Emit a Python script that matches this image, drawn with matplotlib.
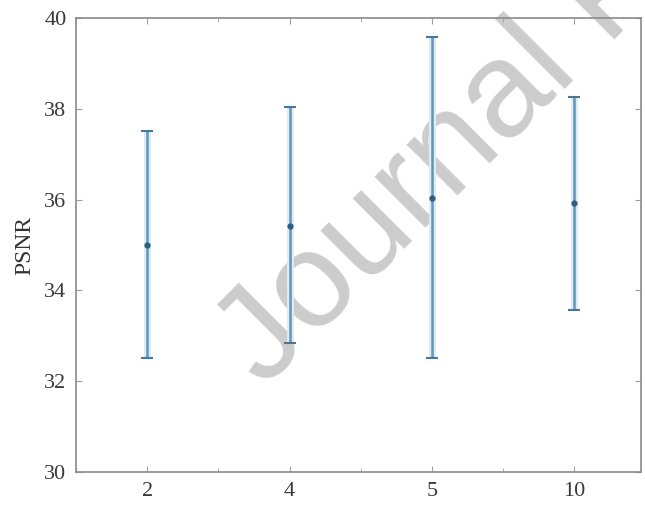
import numpy as np
import matplotlib.pyplot as plt
from matplotlib.ticker import MultipleLocator

# data
categories = ['2', '4', '5', '10']
mean_psnr = [35.0, 35.42, 36.04, 35.93]
upper_psnr = [37.5, 38.04, 39.58, 38.26]
lower_psnr = [32.5, 32.85, 32.5, 33.57]

plt.rcParams['font.family'] = ['Liberation Serif', 'DejaVu Serif']

x = np.arange(1, len(categories) + 1)
mean = np.array(mean_psnr)
err = [mean - np.array(lower_psnr), np.array(upper_psnr) - mean]

fig = plt.figure(figsize=(6.45, 5.09), dpi=100)
ax = fig.add_axes([0.118, 0.0727, 0.876, 0.892])

# watermark of the preprint, behind the bars
ax.text(0.41, 0.235, 'Journal Pre-proof', fontsize=98, color='#cccccc',
        family='Liberation Sans', rotation=45, rotation_mode='anchor',
        ha='left', va='baseline', transform=fig.transFigure, clip_on=False, zorder=0.5)

# soft halo to mimic the blurred scan
ax.errorbar(x, mean, yerr=err, fmt='none', ecolor='#dcedf8', elinewidth=5, capsize=0, zorder=1)
_, caps, _ = ax.errorbar(x, mean, yerr=err, fmt='o', color='#2f5f80', markersize=3.5,
                         ecolor='#6594b9', elinewidth=1.8, capsize=4.5, capthick=1.5, zorder=2)
for c in caps:
    c.set_markeredgecolor('#4a7799')

ax.set_xlim(0.5, 4.47)
ax.set_ylim(30, 40)
ax.set_xticks(x)
ax.set_xticklabels(categories)
ax.xaxis.set_minor_locator(MultipleLocator(0.5))
ax.set_yticks(np.arange(30, 41, 2))
ax.set_ylabel('PSNR', fontsize=17, color='#333333', labelpad=6)

ax.tick_params(which='both', direction='in', top=True, right=True, colors='#a0a0a0',
               labelcolor='#3a3a3a', labelsize=16, length=4, pad=7)
ax.tick_params(which='minor', length=3)
for s in ax.spines.values():
    s.set_color('#8a8a8a')
    s.set_linewidth(1.2)

fig.savefig('out.png', dpi=100)
